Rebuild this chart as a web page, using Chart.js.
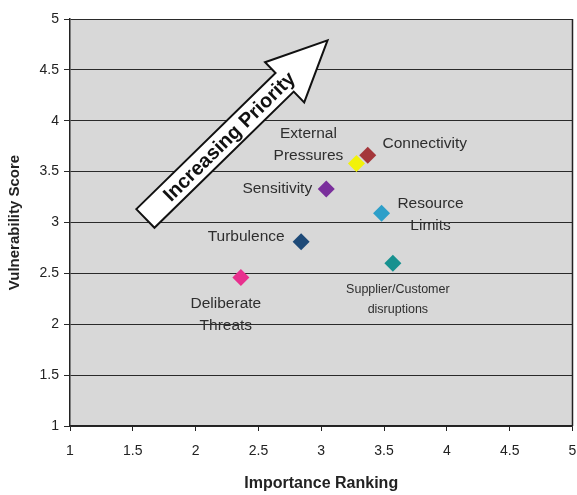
<!DOCTYPE html>
<html>
<head>
<meta charset="utf-8">
<script src="https://cdn.jsdelivr.net/npm/chart.js@4/dist/chart.umd.min.js"></script>
<style>
  html, body { margin: 0; padding: 0; background: #fff; overflow: hidden; }
  #wrap { width: 581px; height: 495px; }
</style>
</head>
<body>
<div id="wrap"><canvas id="chart"></canvas></div>
<script>
'use strict';

// risk factors: importance ranking vs vulnerability score
const FACTORS = ['Connectivity', 'External Pressures', 'Sensitivity', 'Resource Limits',
  'Turbulence', 'Supplier/Customer disruptions', 'Deliberate Threats'];
const IMPORTANCE = [3.37, 3.28, 3.04, 3.48, 2.84, 3.57, 2.36];
const VULNERABILITY = [3.66, 3.58, 3.33, 3.09, 2.81, 2.60, 2.46];
const X_TICKS = [1, 1.5, 2, 2.5, 3, 3.5, 4, 4.5, 5];
const Y_TICKS = [1, 1.5, 2, 2.5, 3, 3.5, 4, 4.5, 5];

const COLORS = ['#a4363a', '#f2f20a', '#7a2f9c', '#2d9fc9', '#1e4a78', '#17918f', '#e8308e'];
const FONT = '"Liberation Sans", Arial, sans-serif';

// label text lines and offsets (px) from each marker
const LABELS = [
  { lines: ['Connectivity'], dx: 57, dy: -12, size: 15.5, lh: 22 },
  { lines: ['External', 'Pressures'], dx: -48, dy: -30, size: 15.5, lh: 22 },
  { lines: ['Sensitivity'], dx: -49, dy: 0, size: 15.5, lh: 22 },
  { lines: ['Resource', 'Limits'], dx: 49, dy: -10, size: 15.5, lh: 22 },
  { lines: ['Turbulence'], dx: -55, dy: -5, size: 15.5, lh: 22 },
  { lines: ['Supplier/Customer', 'disruptions'], dx: 5, dy: 26, size: 12.5, lh: 20 },
  { lines: ['Deliberate', 'Threats'], dx: -15, dy: 26, size: 15.5, lh: 22 },
];

// priority arrow, tail and tip in data units
const ARROW = { from: [1.6, 3.04], to: [3.05, 4.79], text: 'Increasing Priority' };

const plotBackground = {
  id: 'plotBackground',
  beforeDraw(chart) {
    const { ctx, chartArea: a } = chart;
    ctx.save();
    ctx.fillStyle = '#d8d8d8';
    ctx.fillRect(a.left, a.top, a.right - a.left, a.bottom - a.top);
    ctx.restore();
  },
  afterDatasetsDraw(chart) {
    const { ctx, chartArea: a } = chart;
    ctx.save();
    ctx.strokeStyle = '#222';
    ctx.lineWidth = 1.5;
    ctx.beginPath();
    ctx.moveTo(a.right, a.top);
    ctx.lineTo(a.right, a.bottom);
    ctx.stroke();
    ctx.restore();
  },
};

const pointLabels = {
  id: 'pointLabels',
  afterDatasetsDraw(chart) {
    const { ctx } = chart;
    const meta = chart.getDatasetMeta(0);
    ctx.save();
    ctx.fillStyle = '#2e2e2e';
    ctx.textAlign = 'center';
    ctx.textBaseline = 'middle';
    meta.data.forEach((pt, i) => {
      const l = LABELS[i];
      ctx.font = `${l.size}px ${FONT}`;
      l.lines.forEach((line, j) => {
        ctx.fillText(line, pt.x + l.dx, pt.y + l.dy + j * l.lh);
      });
    });
    ctx.restore();
  },
};

const priorityArrow = {
  id: 'priorityArrow',
  afterDatasetsDraw(chart) {
    const { ctx, scales: { x, y } } = chart;
    const x0 = x.getPixelForValue(ARROW.from[0]);
    const y0 = y.getPixelForValue(ARROW.from[1]);
    const x1 = x.getPixelForValue(ARROW.to[0]);
    const y1 = y.getPixelForValue(ARROW.to[1]);
    const len = Math.hypot(x1 - x0, y1 - y0);
    const ang = Math.atan2(y1 - y0, x1 - x0);
    const shaft = 13, head = 28, headLen = 60;
    ctx.save();
    ctx.translate(x0, y0);
    ctx.rotate(ang);
    ctx.beginPath();
    ctx.moveTo(0, -shaft);
    ctx.lineTo(len - headLen, -shaft);
    ctx.lineTo(len - headLen, -head);
    ctx.lineTo(len, 0);
    ctx.lineTo(len - headLen, head);
    ctx.lineTo(len - headLen, shaft);
    ctx.lineTo(0, shaft);
    ctx.closePath();
    ctx.fillStyle = '#fff';
    ctx.fill();
    ctx.strokeStyle = '#111';
    ctx.lineWidth = 2;
    ctx.stroke();
    ctx.fillStyle = '#111';
    ctx.font = `bold 20px ${FONT}`;
    ctx.textAlign = 'center';
    ctx.textBaseline = 'middle';
    ctx.fillText(ARROW.text, len * 0.46, 1);
    ctx.restore();
  },
};

const tickFormat = (v) => String(v);

new Chart(document.getElementById('chart'), {
  type: 'scatter',
  data: {
    datasets: [{
      label: 'Factors',
      data: IMPORTANCE.map((v, i) => ({ x: v, y: VULNERABILITY[i] })),
      backgroundColor: COLORS,
      borderColor: COLORS,
      borderWidth: 0,
      pointStyle: 'rectRot',
      pointRadius: 8.5,
    }],
  },
  options: {
    responsive: true,
    maintainAspectRatio: false,
    animation: false,
    events: [],
    layout: { padding: { top: 19, right: 1, left: 0, bottom: 0 } },
    plugins: { legend: { display: false }, tooltip: { enabled: false } },
    scales: {
      x: {
        type: 'linear',
        min: 1,
        max: 5,
        afterBuildTicks: (scale) => { scale.ticks = X_TICKS.map((v) => ({ value: v })); },
        afterFit: (scale) => {
          scale.height = 69;
          scale.paddingLeft = 0;
          scale.paddingRight = 0;
        },
        grid: { display: true, drawOnChartArea: false, drawTicks: true, tickLength: 5, color: '#222' },
        border: { color: '#222', width: 1.5 },
        ticks: {
          color: '#222',
          padding: 12,
          callback: tickFormat,
          font: { family: FONT, size: 14 },
        },
        title: {
          display: true,
          text: 'Importance Ranking',
          color: '#222',
          padding: { top: 8, bottom: 2 },
          font: { family: FONT, size: 16, weight: 'bold' },
        },
      },
      y: {
        type: 'linear',
        min: 1,
        max: 5,
        afterBuildTicks: (scale) => { scale.ticks = Y_TICKS.map((v) => ({ value: v })); },
        afterFit: (scale) => { scale.width = 70; },
        grid: { color: '#2a2a2a', lineWidth: 1, tickLength: 6 },
        border: { color: '#222', width: 1.5 },
        ticks: {
          color: '#222',
          padding: 5,
          callback: tickFormat,
          font: { family: FONT, size: 14 },
        },
        title: {
          display: true,
          text: 'Vulnerability Score',
          color: '#222',
          padding: { top: 6, bottom: 4 },
          font: { family: FONT, size: 15, weight: 'bold' },
        },
      },
    },
  },
  plugins: [plotBackground, pointLabels, priorityArrow],
});
</script>
</body>
</html>
